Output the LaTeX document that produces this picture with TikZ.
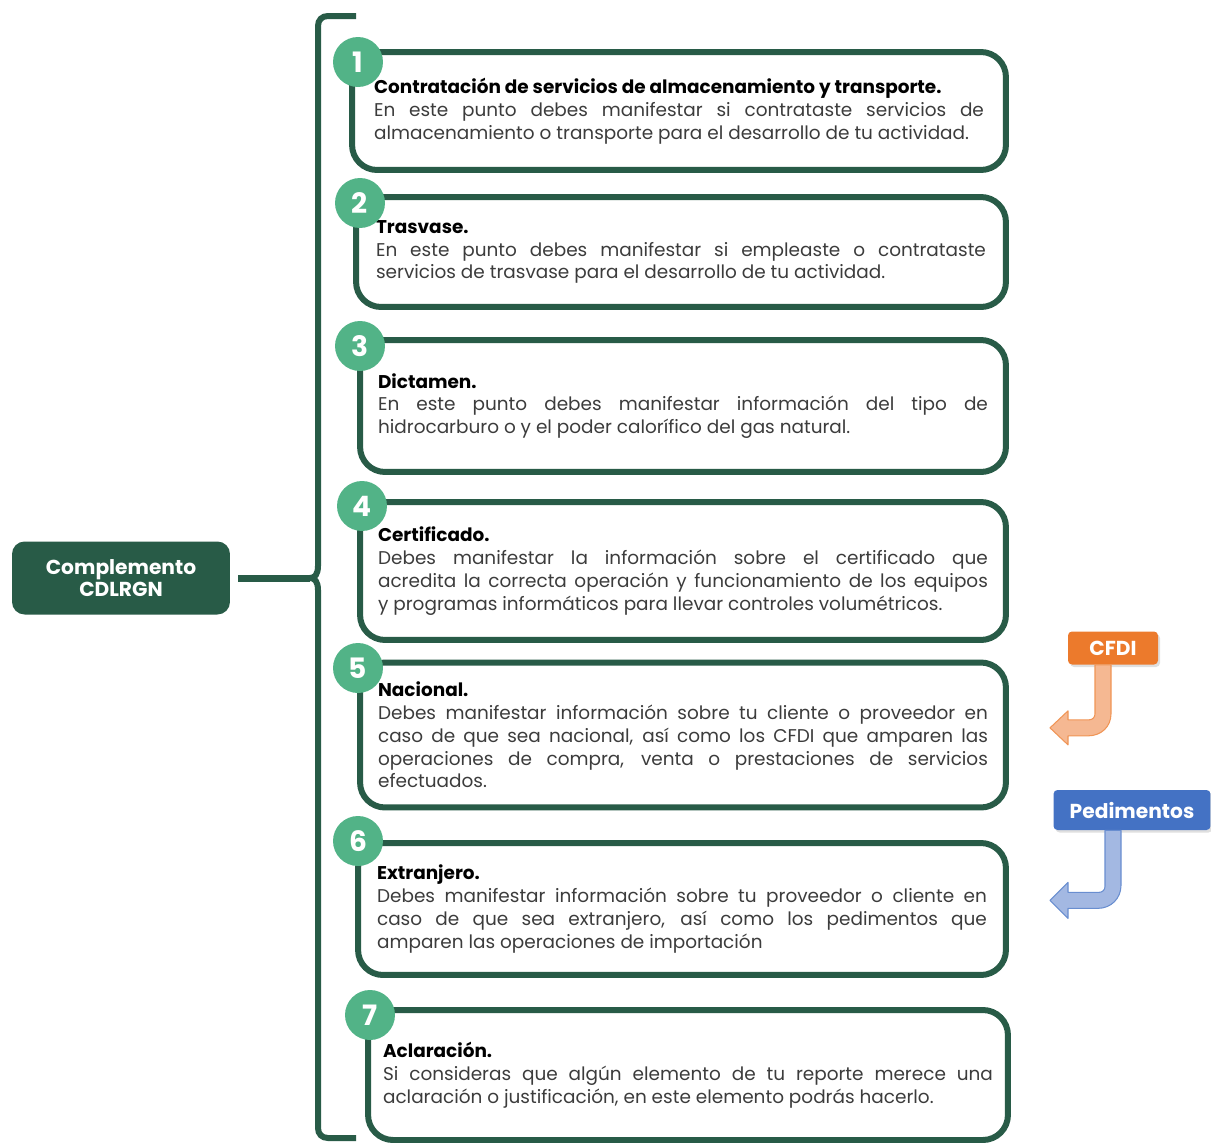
\documentclass[tikz,border=0pt]{standalone}
\usepackage{fontspec}
\setmainfont{Poppins}
\newfontfamily\bodyfont{Poppins}
\usetikzlibrary{shadows}
\definecolor{darkgreen}{HTML}{285B47}
\definecolor{numgreen}{HTML}{52B387}
\definecolor{cfdiorange}{HTML}{EC7A2C}
\definecolor{arroworange}{HTML}{F5B892}
\definecolor{pedblue}{HTML}{4472C4}
\definecolor{arrowblue}{HTML}{A3B8E2}
\definecolor{bodygray}{HTML}{3C3C3C}

\begin{document}
\begin{tikzpicture}[x=0.02cm,y=-0.02cm]
  \tikzset{
    itembox/.style={draw=darkgreen, line width=0.12cm, rounded corners=0.5cm,
          fill=white, text width=12.2cm, align=justify, inner sep=0pt,
          font=\bodyfont\fontsize{10.5}{13}\selectfont, text=bodygray},
    num/.style={circle, fill=numgreen, minimum size=1cm, inner sep=0pt,
          text=white, font=\bfseries\fontsize{16}{16}\selectfont},
    mainbox/.style={fill=darkgreen, rounded corners=0.25cm, text=white,
          align=center, font=\bfseries\fontsize{11.5}{13}\selectfont},
    tag/.style={rounded corners=0.08cm, text=white,
          drop shadow={opacity=0.25, shadow xshift=0.04cm, shadow yshift=-0.05cm},
          font=\bfseries\fontsize{11.5}{13}\selectfont},
    bracket/.style={draw=darkgreen, line width=0.12cm},
    link/.style={draw=darkgreen, line width=0.14cm}
  }
  \useasboundingbox (0,0) rectangle (1211,1143);

  \node[mainbox, minimum width=4.36cm, minimum height=1.46cm] (main) at (121,578)
        {Complemento\\CDLRGN};
  \coordinate (tip) at (310,578);

  \draw[bracket] (356,16) -- (328,16) .. controls (322,16) and (318,20) .. (318,26)
        -- (318,566) .. controls (318,574) and (315,578) .. (tip)
        .. controls (315,578) and (318,582) .. (318,590)
        -- (318,1128) .. controls (318,1134) and (322,1138) .. (328,1138) -- (356,1138);
  \draw[link, shorten <=0.16cm] (main.east) -- (tip);

  \node[itembox, minimum width=13.08cm, minimum height=2.36cm] (b1) at (679,111)
        {\textcolor{black}{\textbf{Contratación de servicios de almacenamiento y transporte.}}\\
        En este punto debes manifestar si contrataste servicios de\linebreak
        almacenamiento o transporte para el desarrollo de tu actividad.};
  \node[itembox, minimum width=13cm, minimum height=2.2cm] (b2) at (681,252)
        {\textcolor{black}{\textbf{Trasvase.}}\\
        En este punto debes manifestar si empleaste o contrataste\linebreak
        servicios de trasvase para el desarrollo de tu actividad.};
  \node[itembox, minimum width=12.92cm, minimum height=2.64cm] (b3) at (683,406)
        {\textcolor{black}{\textbf{Dictamen.}}\\
        En este punto debes manifestar información del tipo de\linebreak
        hidrocarburo o y el poder calorífico del gas natural.};
  \node[itembox, minimum width=12.92cm, minimum height=2.76cm] (b4) at (683,571)
        {\textcolor{black}{\textbf{Certificado.}}\\
        Debes manifestar la información sobre el certificado que\linebreak
        acredita la correcta operación y funcionamiento de los equipos\linebreak
        y programas informáticos para llevar controles volumétricos.};
  \node[itembox, minimum width=12.92cm, minimum height=2.9cm] (b5) at (683,735)
        {\textcolor{black}{\textbf{Nacional.}}\\
        Debes manifestar información sobre tu cliente o proveedor en\linebreak
        caso de que sea nacional, así como los CFDI que amparen las\linebreak
        operaciones de compra, venta o prestaciones de servicios\linebreak
        efectuados.};
  \node[itembox, minimum width=12.96cm, minimum height=2.64cm] (b6) at (682,909)
        {\textcolor{black}{\textbf{Extranjero.}}\\
        Debes manifestar información sobre tu proveedor o cliente en\linebreak
        caso de que sea extranjero, así como los pedimentos que\linebreak
        amparen las operaciones de importación};
  \node[itembox, minimum width=12.8cm, minimum height=2.6cm] (b7) at (688,1075)
        {\textcolor{black}{\textbf{Aclaración.}}\\
        Si consideras que algún elemento de tu reporte merece una\linebreak
        aclaración o justificación, en este elemento podrás hacerlo.};

  \node[num] (n1) at (358,62) {1};
  \node[num] (n2) at (360,203) {2};
  \node[num] (n3) at (360,346) {3};
  \node[num] (n4) at (362,506) {4};
  \node[num] (n5) at (358,668) {5};
  \node[num] (n6) at (358,841) {6};
  \node[num] (n7) at (370,1015) {7};

  \node[tag, fill=cfdiorange, minimum width=1.8cm, minimum height=0.66cm] (cfdi)
        at (1113,648) {CFDI};
  \node[tag, fill=pedblue, minimum width=3.14cm, minimum height=0.8cm] (ped)
        at (1132,810) {Pedimentos};

  \begin{scope}[shift={(cfdi.south)}]
    \filldraw[draw=cfdiorange!80, fill=arroworange, line width=0.6pt, line join=round]
      (-18,0) -- (-2,0) -- (-2,49) .. controls (-2,62) and (-12,71) .. (-25,71)
      -- (-45,71) -- (-45,80) -- (-63,63) -- (-45,46) -- (-45,55) -- (-24,55)
      .. controls (-20.5,55) and (-18,52.5) .. (-18,49) -- cycle;
  \end{scope}
  \begin{scope}[shift={(ped.south)}]
    \filldraw[draw=pedblue!80, fill=arrowblue, line width=0.6pt, line join=round]
      (-27,0) -- (-11,0) -- (-11,55) .. controls (-11,68) and (-21,78) .. (-34,78)
      -- (-64,78) -- (-64,88) -- (-82,70) -- (-64,52) -- (-64,62) -- (-33,62)
      .. controls (-29.5,62) and (-27,59.5) .. (-27,56) -- cycle;
  \end{scope}
\end{tikzpicture}
\end{document}
